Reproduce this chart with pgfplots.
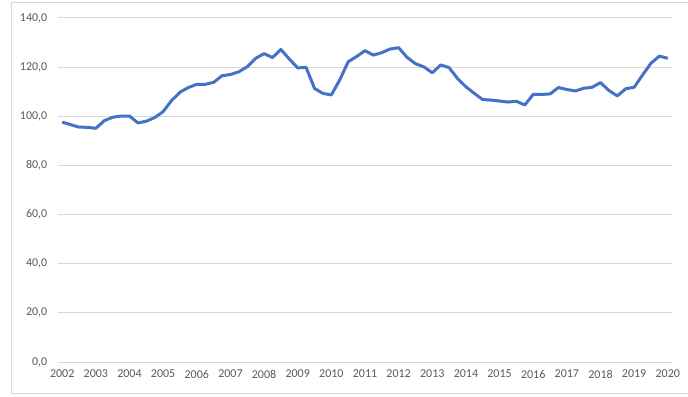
\documentclass[border=0pt]{standalone}
\usepackage{fontspec}
\setmainfont{Carlito}
\usepackage{pgfplots}
\pgfplotsset{compat=1.18}
\definecolor{linec}{HTML}{4472C4}
\definecolor{gridc}{HTML}{D9D9D9}
\definecolor{textc}{HTML}{595959}
\definecolor{borderc}{HTML}{D9D9D9}
\begin{document}
\begin{tikzpicture}[x=0.75pt,y=0.75pt]
\useasboundingbox (0,0) rectangle (688,396);
\draw[borderc, line width=0.75pt] (11,3) rectangle (692,393);
\begin{axis}[
  at={(43.5pt,25.5pt)}, anchor=south west,
  scale only axis, width=460.5pt, height=258pt,
  xmin=-0.5, xmax=72.5, ymin=0, ymax=140,
  xtick={0,4,...,72},
  xticklabels={2002,2003,2004,2005,2006,2007,2008,2009,2010,2011,2012,2013,2014,2015,2016,2017,2018,2019,2020},
  ytick={0,20,...,140},
  major tick length=0pt,
  axis line style={draw=none},
  ymajorgrids, major grid style={gridc, line width=0.75pt},
  tick label style={font=\fontsize{9}{11}\selectfont, text=textc},
  /pgf/number format/.cd, fixed, fixed zerofill, precision=1, use comma, assume math mode=true,
  /pgfplots/.cd,
  yticklabel style={xshift=-4.5pt},
  xticklabel style={yshift=-2.5pt},
  clip=false,
]
\addplot[linec, line width=2.25pt, line join=round, no markers] table[x=i, y=v] {
i v
0 97.6
1 96.6
2 95.6
3 95.5
4 95.1
5 98.2
6 99.6
7 100.1
8 100.1
9 97.3
10 98.0
11 99.5
12 101.9
13 106.4
14 109.8
15 111.7
16 113.0
17 113.0
18 113.8
19 116.5
20 117.0
21 118.1
22 120.2
23 123.6
24 125.5
25 123.9
26 127.2
27 123.3
28 119.7
29 119.9
30 111.3
31 109.3
32 108.7
33 114.8
34 122.2
35 124.3
36 126.7
37 124.9
38 125.9
39 127.4
40 127.9
41 124.0
42 121.4
43 120.1
44 117.7
45 120.9
46 119.8
47 115.4
48 112.0
49 109.3
50 106.8
51 106.6
52 106.2
53 105.8
54 106.1
55 104.6
56 108.9
57 108.9
58 109.1
59 111.7
60 110.9
61 110.3
62 111.4
63 111.8
64 113.7
65 110.5
66 108.3
67 111.2
68 111.8
69 116.8
70 121.6
71 124.5
72 123.6
};
\end{axis}
\end{tikzpicture}
\end{document}
